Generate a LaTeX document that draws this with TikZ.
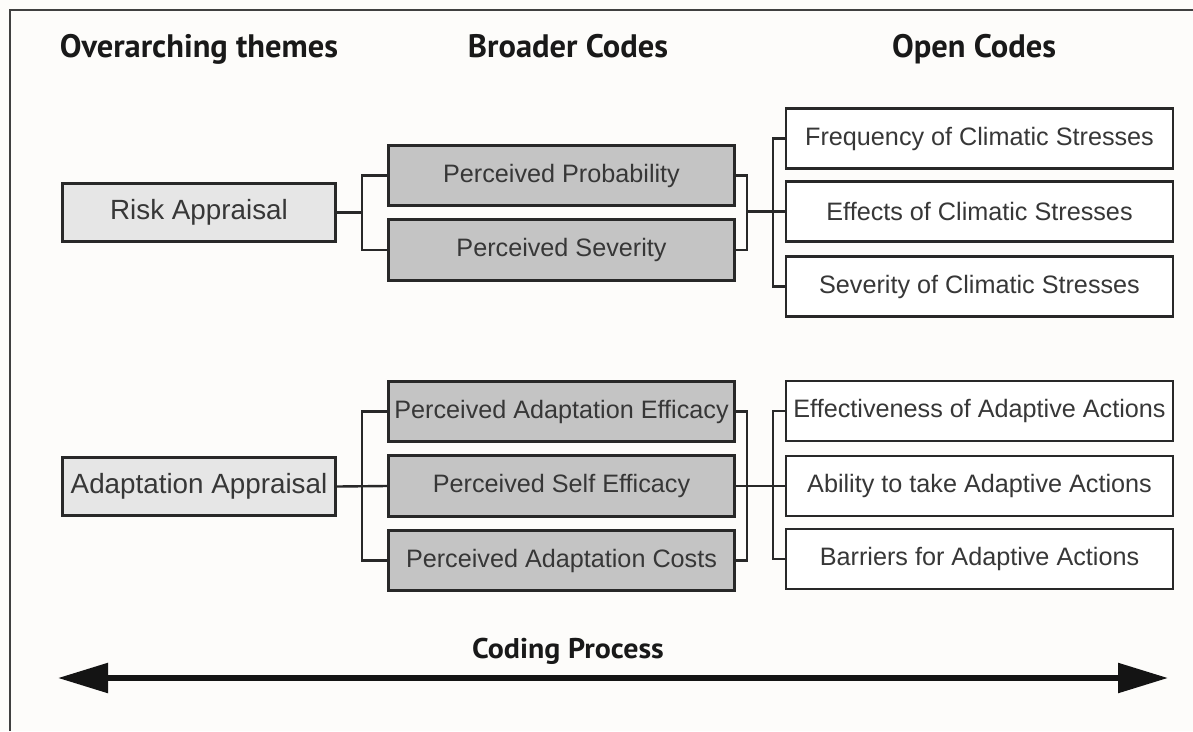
\documentclass[tikz,border=0pt]{standalone}
\usepackage{fontspec}
\setmainfont{Liberation Sans}
\newfontfamily\hdfont{PT Sans}
\usetikzlibrary{arrows.meta}
\definecolor{bgcol}{RGB}{253,252,250}
\definecolor{linecol}{RGB}{40,40,40}
\definecolor{txtcol}{RGB}{55,55,55}
\definecolor{themefill}{RGB}{230,230,230}
\definecolor{broadfill}{RGB}{196,196,196}
\tikzset{
  boxbase/.style={draw=linecol, line width=2.6pt, text=txtcol, inner sep=0pt, align=center},
  themebox/.style={boxbase, fill=themefill, minimum width=273.5pt, minimum height=58.5pt, font=\fontsize{27.8}{32}\selectfont},
  broadbox/.style={boxbase, fill=broadfill, minimum width=346.5pt, minimum height=60.5pt, font=\fontsize{25.2}{29}\selectfont},
  openbox/.style={boxbase, fill=white, minimum width=387pt, minimum height=60pt, font=\fontsize{25.2}{29}\selectfont},
  header/.style={text=black!90, inner sep=0pt, anchor=base, font=\hdfont\bfseries\fontsize{32.5}{36}\selectfont},
  conn/.style={draw=linecol, line width=2.4pt},
}
\begin{document}
\begin{tikzpicture}[x=1pt,y=-1pt]
\fill[bgcol] (0,0) rectangle (1193,731);
\useasboundingbox (0,0) rectangle (1193,731);
% frame
\draw[draw=black!75, line width=2.6pt] (10,731) -- (10,10) -- (1193,10);

% headers
\node[header] (h1) at (199,57) {Overarching themes};
\node[header] (h2) at (568,57) {Broader Codes};
\node[header] (h3) at (974,57) {Open Codes};

% helper x positions
\coordinate (bl) at (362,0);
\coordinate (br) at (747,0);
\coordinate (bo) at (773,0);

% themes
\node[themebox] (risk) at (199,212.5) {Risk Appraisal};
\node[themebox] (adapt) at (199,486.5) {Adaptation Appraisal};

% broader codes
\node[broadbox] (pp) at (561.5,175.5) {Perceived Probability};
\node[broadbox] (ps) at (561.5,250) {Perceived Severity};
\node[broadbox] (pae) at (561.5,411.5) {Perceived Adaptation Efficacy};
\node[broadbox] (pse) at (561.5,486) {Perceived Self Efficacy};
\node[broadbox] (pac) at (561.5,560.5) {Perceived Adaptation Costs};

% open codes
\node[openbox] (fr) at (979.5,138.5) {Frequency of Climatic Stresses};
\node[openbox] (ef) at (979.5,211.5) {Effects of Climatic Stresses};
\node[openbox] (sv) at (979.5,286.5) {Severity of Climatic Stresses};
\node[openbox] (eff) at (979.5,411) {Effectiveness of Adaptive Actions};
\node[openbox] (ab) at (979.5,486) {Ability to take Adaptive Actions};
\node[openbox] (ba) at (979.5,559) {Barriers for Adaptive Actions};

% connectors top
\draw[conn] (risk.east) -- (risk.east -| bl);
\draw[conn] (pp.west) -| (bl |- ps.west) -- (ps.west);
\draw[conn] (pp.east) -| (br |- ps.east) -- (ps.east);
\draw[conn] (br |- ef.west) -- (ef.west);
\draw[conn] (fr.west) -| (bo |- sv.west) -- (sv.west);

% connectors bottom
\draw[conn] (adapt.east) -- (pse.west);
\draw[conn] (pae.west) -| (bl |- pac.west) -- (pac.west);
\draw[conn] (pae.east) -| (br |- pac.east) -- (pac.east);
\draw[conn] (pse.east) -- (ab.west);
\draw[conn] (eff.west) -| (bo |- ba.west) -- (ba.west);

% coding process
\node[header, font=\hdfont\bfseries\fontsize{28.5}{32}\selectfont, xscale=1.05] (cp) at (568,658) {Coding Process};
\coordinate (al) at (58,678);
\coordinate (ar) at (1168,678);
\draw[line width=5.5pt, black!92, {Triangle[length=50pt,width=29pt]}-{Triangle[length=50pt,width=29pt]}] (al) -- (ar);
\end{tikzpicture}
\end{document}
